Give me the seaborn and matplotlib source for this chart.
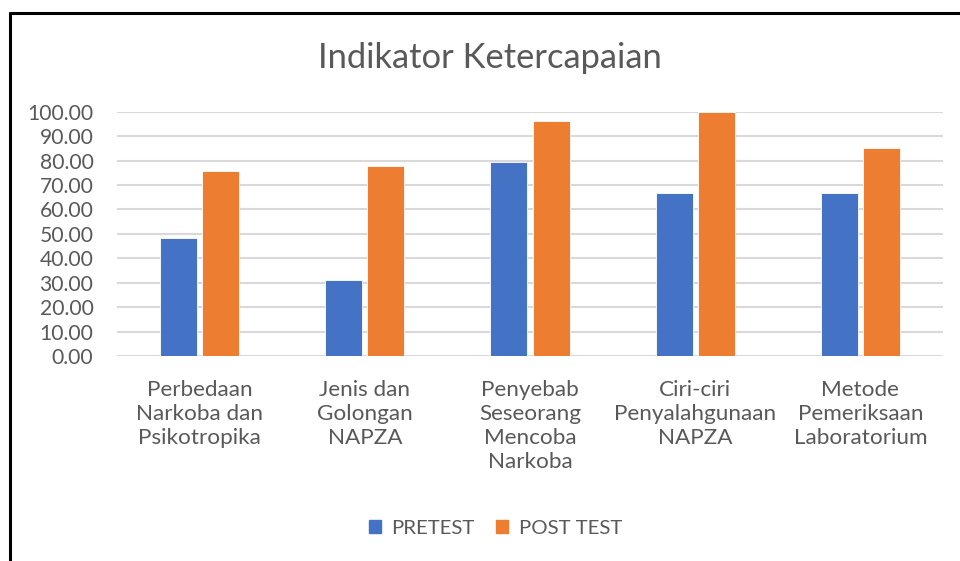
import matplotlib

matplotlib.use("Agg")
import matplotlib.pyplot as plt  # noqa: E402
import pandas as pd  # noqa: E402
import seaborn as sns  # noqa: E402
from matplotlib.lines import Line2D  # noqa: E402
from matplotlib.ticker import FormatStrFormatter  # noqa: E402

categories = [
    "Perbedaan\nNarkoba dan\nPsikotropika",
    "Jenis dan\nGolongan\nNAPZA",
    "Penyebab\nSeseorang\nMencoba\nNarkoba",
    "Ciri-ciri\nPenyalahgunaan\nNAPZA",
    "Metode\nPemeriksaan\nLaboratorium",
]
pretest = [48.1, 31.3, 79.6, 66.7, 66.7]
post_test = [75.9, 77.8, 96.3, 100.0, 85.2]
series = ["PRETEST", "POST TEST"]
colors = ["#4472C4", "#ED7D31"]

df = pd.DataFrame(
    {
        "kategori": categories * 2,
        "nilai": pretest + post_test,
        "seri": [series[0]] * len(categories) + [series[1]] * len(categories),
    }
)

sns.set_style("white")
plt.rcParams["font.family"] = ["Lato", "DejaVu Sans"]
text_color = "#595959"

fig = plt.figure(figsize=(9.6, 5.61), dpi=100)
ax = fig.add_axes([0.1219, 0.3654, 0.8604, 0.4355])

sns.barplot(
    data=df, x="kategori", y="nilai", hue="seri", palette=colors,
    width=0.51, gap=0.12, ax=ax, legend=False, saturation=1,
    edgecolor="white", linewidth=0.6,
)

ax.set_ylim(0, 100)
ax.set_yticks(range(0, 101, 10))
ax.yaxis.set_major_formatter(FormatStrFormatter("%.2f"))
ax.grid(axis="y", color="#D9D9D9", linewidth=1.5)
ax.set_axisbelow(True)
for s in ax.spines.values():
    s.set_visible(False)
ax.set_xlabel("")
ax.set_ylabel("")
ax.tick_params(axis="y", length=0, pad=17, labelsize=15.2, labelcolor=text_color)
ax.tick_params(axis="x", length=0, pad=17, labelsize=16.2, labelcolor=text_color)
for lab in ax.get_xticklabels():
    lab.set_linespacing(1.25)

fig.text(0.51, 1 - 58 / 561, "Indikator Ketercapaian", ha="center", va="center",
         fontsize=24.8, color=text_color)

handles = [plt.Rectangle((0, 0), 1, 1, color=c) for c in colors]
fig.legend(handles, series, loc="center", bbox_to_anchor=(0.516, 1 - 528 / 561),
           ncol=2, frameon=False, fontsize=14.7, handlelength=0.6, handleheight=0.6,
           handletextpad=0.5, columnspacing=1.05, labelcolor=text_color)

# chart frame (left and top edges visible in the crop)
fig.add_artist(Line2D([10 / 960, 10 / 960], [0, 1 - 13 / 561], color="black", lw=2.2,
                      transform=fig.transFigure))
fig.add_artist(Line2D([10 / 960, 1], [1 - 13 / 561, 1 - 13 / 561], color="black", lw=2.2,
                      transform=fig.transFigure))

fig.savefig("out.png", dpi=100)
